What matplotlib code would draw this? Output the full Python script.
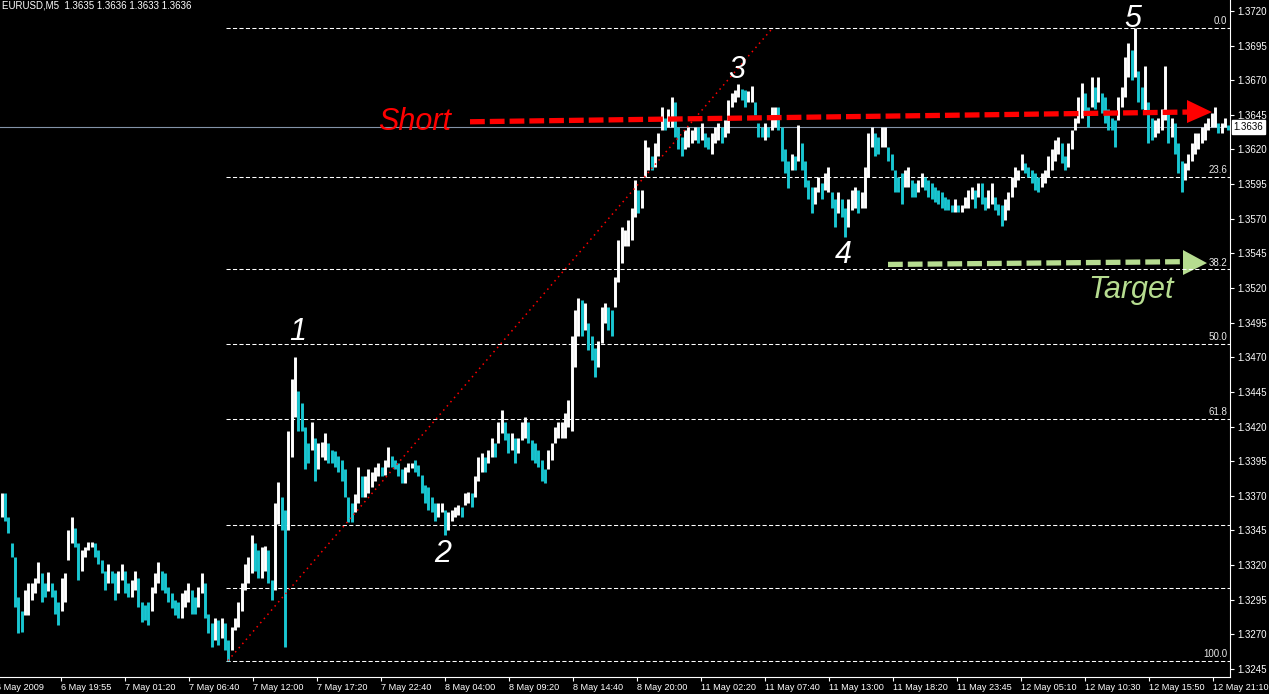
import numpy as np
import matplotlib.pyplot as plt
from matplotlib.transforms import blended_transform_factory

plt.rcParams['font.family'] = ['Liberation Sans', 'DejaVu Sans']

# ---- DADOS (EURUSD M5, maximas e minimas, ~5 barras por coluna) ----
maximas = [
    1.3372, 1.3372, 1.3355, 1.3336, 1.3326, 1.3297, 1.3287, 1.3302, 1.3307, 1.3307,
    1.3311, 1.3322, 1.3314, 1.3307, 1.3315, 1.3307, 1.3302, 1.3293, 1.3311, 1.3314,
    1.3345, 1.3355, 1.3347, 1.3336, 1.3331, 1.3333, 1.3337, 1.3337, 1.3336, 1.3331,
    1.3324, 1.3316, 1.3321, 1.3316, 1.3314, 1.3316, 1.3321, 1.3316, 1.3307, 1.3309,
    1.3316, 1.3311, 1.3293, 1.3291, 1.3293, 1.3304, 1.3314, 1.3322, 1.3316, 1.3314,
    1.3304, 1.3300, 1.3295, 1.3293, 1.3300, 1.3302, 1.3307, 1.3302, 1.3297, 1.3304,
    1.3314, 1.3307, 1.3285, 1.3278, 1.3282, 1.3280, 1.3282, 1.3278, 1.3266, 1.3275,
    1.3282, 1.3293, 1.3307, 1.3321, 1.3326, 1.3342, 1.3336, 1.3331, 1.3333, 1.3334,
    1.3331, 1.3309, 1.3365, 1.3380, 1.3369, 1.3360, 1.3417, 1.3454, 1.3470, 1.3446,
    1.3437, 1.3420, 1.3408, 1.3423, 1.3412, 1.3408, 1.3409, 1.3415, 1.3408, 1.3403,
    1.3402, 1.3399, 1.3396, 1.3389, 1.3369, 1.3365, 1.3371, 1.3391, 1.3384, 1.3384,
    1.3389, 1.3387, 1.3391, 1.3394, 1.3391, 1.3396, 1.3405, 1.3399, 1.3396, 1.3394,
    1.3389, 1.3391, 1.3394, 1.3394, 1.3396, 1.3392, 1.3385, 1.3378, 1.3376, 1.3369,
    1.3365, 1.3365, 1.3365, 1.3360, 1.3358, 1.3360, 1.3362, 1.3363, 1.3362, 1.3372,
    1.3373, 1.3372, 1.3384, 1.3398, 1.3401, 1.3398, 1.3403, 1.3412, 1.3408, 1.3423,
    1.3432, 1.3423, 1.3415, 1.3415, 1.3412, 1.3412, 1.3423, 1.3427, 1.3423, 1.3410,
    1.3408, 1.3403, 1.3396, 1.3389, 1.3403, 1.3408, 1.3420, 1.3423, 1.3423, 1.3430,
    1.3439, 1.3485, 1.3504, 1.3513, 1.3511, 1.3509, 1.3495, 1.3485, 1.3477, 1.3482,
    1.3506, 1.3509, 1.3506, 1.3504, 1.3528, 1.3555, 1.3564, 1.3562, 1.3569, 1.3578,
    1.3598, 1.3591, 1.3591, 1.3627, 1.3622, 1.3615, 1.3625, 1.3632, 1.3651, 1.3643,
    1.3649, 1.3658, 1.3654, 1.3636, 1.3629, 1.3634, 1.3636, 1.3634, 1.3636, 1.3636,
    1.3639, 1.3632, 1.3629, 1.3632, 1.3636, 1.3639, 1.3636, 1.3641, 1.3656, 1.3661,
    1.3663, 1.3667, 1.3664, 1.3663, 1.3662, 1.3666, 1.3654, 1.3639, 1.3636, 1.3639,
    1.3636, 1.3651, 1.3651, 1.3651, 1.3636, 1.3620, 1.3612, 1.3617, 1.3615, 1.3638,
    1.3625, 1.3612, 1.3598, 1.3593, 1.3593, 1.3600, 1.3596, 1.3603, 1.3607, 1.3589,
    1.3584, 1.3589, 1.3584, 1.3578, 1.3584, 1.3591, 1.3593, 1.3591, 1.3589, 1.3607,
    1.3632, 1.3636, 1.3632, 1.3629, 1.3636, 1.3636, 1.3622, 1.3617, 1.3605, 1.3600,
    1.3603, 1.3605, 1.3607, 1.3598, 1.3596, 1.3598, 1.3603, 1.3600, 1.3598, 1.3596,
    1.3593, 1.3591, 1.3589, 1.3586, 1.3584, 1.3580, 1.3584, 1.3580, 1.3580, 1.3586,
    1.3591, 1.3593, 1.3591, 1.3596, 1.3596, 1.3586, 1.3591, 1.3596, 1.3586, 1.3581,
    1.3580, 1.3584, 1.3589, 1.3600, 1.3607, 1.3605, 1.3617, 1.3610, 1.3607, 1.3605,
    1.3603, 1.3600, 1.3603, 1.3605, 1.3615, 1.3620, 1.3627, 1.3629, 1.3625, 1.3615,
    1.3625, 1.3634, 1.3643, 1.3658, 1.3668, 1.3661, 1.3651, 1.3672, 1.3665, 1.3672,
    1.3661, 1.3658, 1.3649, 1.3643, 1.3641, 1.3658, 1.3665, 1.3687, 1.3697, 1.3692,
    1.3708, 1.3677, 1.3665, 1.3680, 1.3654, 1.3643, 1.3641, 1.3643, 1.3649, 1.3680,
    1.3646, 1.3643, 1.3639, 1.3625, 1.3612, 1.3610, 1.3617, 1.3625, 1.3632, 1.3632,
    1.3636, 1.3639, 1.3643, 1.3646, 1.3651, 1.3639, 1.3639, 1.3643, 1.3638,
]
minimas = [
    1.3355, 1.3352, 1.3343, 1.3326, 1.3290, 1.3271, 1.3272, 1.3284, 1.3284, 1.3295,
    1.3300, 1.3307, 1.3293, 1.3297, 1.3301, 1.3297, 1.3285, 1.3277, 1.3287, 1.3293,
    1.3324, 1.3336, 1.3333, 1.3309, 1.3316, 1.3326, 1.3331, 1.3333, 1.3326, 1.3321,
    1.3314, 1.3302, 1.3307, 1.3307, 1.3295, 1.3300, 1.3309, 1.3300, 1.3297, 1.3297,
    1.3302, 1.3290, 1.3279, 1.3280, 1.3277, 1.3287, 1.3300, 1.3307, 1.3302, 1.3300,
    1.3293, 1.3289, 1.3284, 1.3282, 1.3282, 1.3290, 1.3293, 1.3285, 1.3285, 1.3290,
    1.3300, 1.3282, 1.3271, 1.3261, 1.3266, 1.3262, 1.3267, 1.3259, 1.3251, 1.3259,
    1.3273, 1.3275, 1.3287, 1.3302, 1.3307, 1.3314, 1.3316, 1.3311, 1.3311, 1.3316,
    1.3307, 1.3295, 1.3302, 1.3350, 1.3345, 1.3261, 1.3345, 1.3398, 1.3427, 1.3417,
    1.3417, 1.3389, 1.3394, 1.3403, 1.3381, 1.3389, 1.3398, 1.3396, 1.3394, 1.3394,
    1.3391, 1.3387, 1.3381, 1.3369, 1.3351, 1.3351, 1.3358, 1.3365, 1.3369, 1.3369,
    1.3372, 1.3376, 1.3381, 1.3384, 1.3384, 1.3385, 1.3391, 1.3391, 1.3389, 1.3384,
    1.3379, 1.3379, 1.3387, 1.3390, 1.3387, 1.3384, 1.3372, 1.3365, 1.3360, 1.3358,
    1.3352, 1.3355, 1.3358, 1.3342, 1.3345, 1.3352, 1.3355, 1.3356, 1.3355, 1.3363,
    1.3365, 1.3362, 1.3369, 1.3381, 1.3387, 1.3387, 1.3394, 1.3398, 1.3398, 1.3408,
    1.3415, 1.3410, 1.3401, 1.3403, 1.3394, 1.3401, 1.3410, 1.3412, 1.3408, 1.3396,
    1.3394, 1.3391, 1.3381, 1.3379, 1.3389, 1.3396, 1.3408, 1.3412, 1.3412, 1.3412,
    1.3420, 1.3417, 1.3463, 1.3485, 1.3485, 1.3490, 1.3475, 1.3468, 1.3456, 1.3463,
    1.3480, 1.3495, 1.3490, 1.3485, 1.3506, 1.3524, 1.3538, 1.3550, 1.3550, 1.3555,
    1.3571, 1.3574, 1.3578, 1.3600, 1.3605, 1.3605, 1.3607, 1.3615, 1.3634, 1.3634,
    1.3636, 1.3636, 1.3629, 1.3620, 1.3615, 1.3620, 1.3622, 1.3625, 1.3627, 1.3625,
    1.3627, 1.3622, 1.3620, 1.3617, 1.3625, 1.3627, 1.3625, 1.3629, 1.3632, 1.3651,
    1.3654, 1.3658, 1.3656, 1.3651, 1.3654, 1.3654, 1.3645, 1.3629, 1.3629, 1.3627,
    1.3629, 1.3634, 1.3636, 1.3634, 1.3612, 1.3603, 1.3592, 1.3605, 1.3605, 1.3612,
    1.3605, 1.3593, 1.3584, 1.3574, 1.3581, 1.3589, 1.3584, 1.3591, 1.3589, 1.3578,
    1.3564, 1.3574, 1.3571, 1.3557, 1.3564, 1.3576, 1.3578, 1.3574, 1.3578, 1.3578,
    1.3600, 1.3622, 1.3615, 1.3617, 1.3622, 1.3622, 1.3612, 1.3605, 1.3589, 1.3589,
    1.3581, 1.3593, 1.3593, 1.3586, 1.3586, 1.3589, 1.3593, 1.3591, 1.3586, 1.3584,
    1.3582, 1.3581, 1.3578, 1.3576, 1.3576, 1.3575, 1.3575, 1.3575, 1.3575, 1.3578,
    1.3578, 1.3584, 1.3578, 1.3586, 1.3581, 1.3576, 1.3578, 1.3581, 1.3576, 1.3573,
    1.3565, 1.3569, 1.3576, 1.3586, 1.3593, 1.3598, 1.3605, 1.3603, 1.3600, 1.3596,
    1.3591, 1.3589, 1.3593, 1.3596, 1.3600, 1.3605, 1.3612, 1.3617, 1.3610, 1.3605,
    1.3607, 1.3620, 1.3634, 1.3639, 1.3643, 1.3646, 1.3636, 1.3651, 1.3649, 1.3654,
    1.3646, 1.3639, 1.3634, 1.3634, 1.3622, 1.3641, 1.3651, 1.3658, 1.3672, 1.3670,
    1.3672, 1.3654, 1.3649, 1.3646, 1.3625, 1.3627, 1.3629, 1.3632, 1.3634, 1.3641,
    1.3625, 1.3629, 1.3617, 1.3603, 1.3589, 1.3598, 1.3605, 1.3612, 1.3617, 1.3620,
    1.3625, 1.3627, 1.3634, 1.3636, 1.3636, 1.3632, 1.3632, 1.3636, 1.3634,
]

precos_eixo = [1.3245, 1.3270, 1.3295, 1.3320, 1.3345, 1.3370, 1.3395, 1.3420, 1.3445, 1.3470,
               1.3495, 1.3520, 1.3545, 1.3570, 1.3595, 1.3620, 1.3645, 1.3670, 1.3695, 1.3720]
rotulos_tempo = ['6 May 2009', '6 May 19:55', '7 May 01:20', '7 May 06:40', '7 May 12:00',
                 '7 May 17:20', '7 May 22:40', '8 May 04:00', '8 May 09:20', '8 May 14:40',
                 '8 May 20:00', '11 May 02:20', '11 May 07:40', '11 May 13:00', '11 May 18:20',
                 '11 May 23:45', '12 May 05:10', '12 May 10:30', '12 May 15:50', '12 May 21:10']
ultima_cotacao = [1.3635, 1.3636, 1.3633, 1.3636]
preco_atual = 1.3636

# Fibonacci (do fundo em 7 May ao topo em 12 May)
fibo_topo = 1.3708
fibo_fundo = 1.3251
fibo_niveis = [0.0, 23.6, 38.2, 50.0, 61.8, 78.6, 88.6, 100.0]
fibo_rotulos = ['0.0', '23.6', '38.2', '50.0', '61.8', '', '', '100.0']

# Linha de tendencia (coluna, preco)
tendencia_col = [67.9, 231.4]
tendencia_preco = [1.3251, 1.3708]

# ---- FIGURA ----
n = len(maximas)
x = np.arange(n)
maximas = np.array(maximas)
minimas = np.array(minimas)
meio = (maximas + minimas) / 2
cores = ['white' if i == 0 or meio[i] >= meio[i - 1] else '#19c6d1' for i in range(n)]

fig = plt.figure(figsize=(12.69, 6.94), dpi=100, facecolor='black')
ax = fig.add_axes([0, 17 / 694, 1230 / 1269, 677 / 694], facecolor='black')
ax.set_xlim(-0.5, n - 0.5)
ax.set_ylim(1.32392, 1.37279)

for s in ['top', 'left']:
    ax.spines[s].set_visible(False)
for s in ['right', 'bottom']:
    ax.spines[s].set_color('white')
    ax.spines[s].set_linewidth(0.8)

# Niveis de Fibonacci
for nivel, rot in zip(fibo_niveis, fibo_rotulos):
    p = fibo_topo - nivel / 100 * (fibo_topo - fibo_fundo)
    ax.hlines(p, tendencia_col[0] - 0.6, n - 0.5, colors='white', linewidth=0.75,
              linestyles=(0, (4, 2.2)))
    if rot:
        ax.text(n - 1.3, p + 0.00012, rot, ha='right', va='bottom', fontsize=7, color='#e8e8e8')

# Preco atual
ax.axhline(preco_atual, color='#8393a8', linewidth=0.8)

# Barras
ax.vlines(x, minimas, maximas, colors=cores, linewidth=2.1)

# Tendencia
ax.plot(tendencia_col, tendencia_preco, color='red', linewidth=1.1, linestyle=(0, (1, 2.6)))

# Seta vermelha (Short)
ax.plot([140.5, 355.6], [1.3640, 1.3647], color='#ff0000', linewidth=3.8,
        linestyle=(0, (2.8, 0.95)), solid_capstyle='butt', dash_capstyle='butt')
ax.fill([355.6, 363.1, 355.6], [1.36557, 1.3647, 1.36391], color='#ff0000', linewidth=0)
ax.text(112.9, 1.3634, 'Short', color='#ff0000', fontsize=22, style='italic',
        ha='left', va='baseline')

# Seta verde (Target)
verde = '#b6dc90'
ax.plot([265.9, 354.4], [1.3537, 1.3539], color=verde, linewidth=3.8,
        linestyle=(0, (2.8, 0.95)), dash_capstyle='butt')
ax.fill([354.4, 361.6, 354.4], [1.35474, 1.3538, 1.35294], color=verde, linewidth=0)
ax.text(325.9, 1.35128, 'Target', color=verde, fontsize=22, style='italic',
        ha='left', va='baseline')

# Ondas
ondas = [('1', 88.9, 1.34825), ('2', 132.4, 1.33222), ('3', 220.6, 1.36716),
         ('4', 252.4, 1.35381), ('5', 339.4, 1.37084)]
for txt, cx, cy in ondas:
    ax.text(cx, cy, txt, color='white', fontsize=22, style='italic', ha='center', va='baseline')

# Eixo de precos
ax.yaxis.tick_right()
ax.set_yticks(precos_eixo)
ax.set_yticklabels([f'{p:.4f}' for p in precos_eixo])
ax.tick_params(axis='y', colors='white', length=3, width=0.8, labelsize=7, pad=2)

# Eixo de tempo
pos_tempo = [-1.4 + 19.2 * k for k in range(len(rotulos_tempo))]
ax.set_xticks(pos_tempo[1:])
ax.set_xticklabels(rotulos_tempo[1:])
ax.tick_params(axis='x', colors='white', length=3, width=0.8, labelsize=6.6, pad=1.2)
for lbl in ax.get_xticklabels():
    lbl.set_ha('left')
ax.annotate(rotulos_tempo[0], xy=(pos_tempo[0], 0), xycoords=('data', 'axes fraction'),
            xytext=(-0.5, -4.2), textcoords='offset points', ha='left', va='top',
            fontsize=6.6, color='white', annotation_clip=False)

# Caixa do preco atual
trans = blended_transform_factory(ax.transAxes, ax.transData)
ax.text(1.003, preco_atual, f'{preco_atual:.4f}', transform=trans, ha='left', va='center',
        fontsize=7, color='black',
        bbox=dict(facecolor='white', edgecolor='white', boxstyle='square,pad=0.2'))

# Cabecalho
fig.text(2 / 1269, 1 - 1 / 694, 'EURUSD,M5  ' + ' '.join(f'{v:.4f}' for v in ultima_cotacao),
         ha='left', va='top', fontsize=7, color='white')

fig.savefig('out.png', dpi=100, facecolor='black')
